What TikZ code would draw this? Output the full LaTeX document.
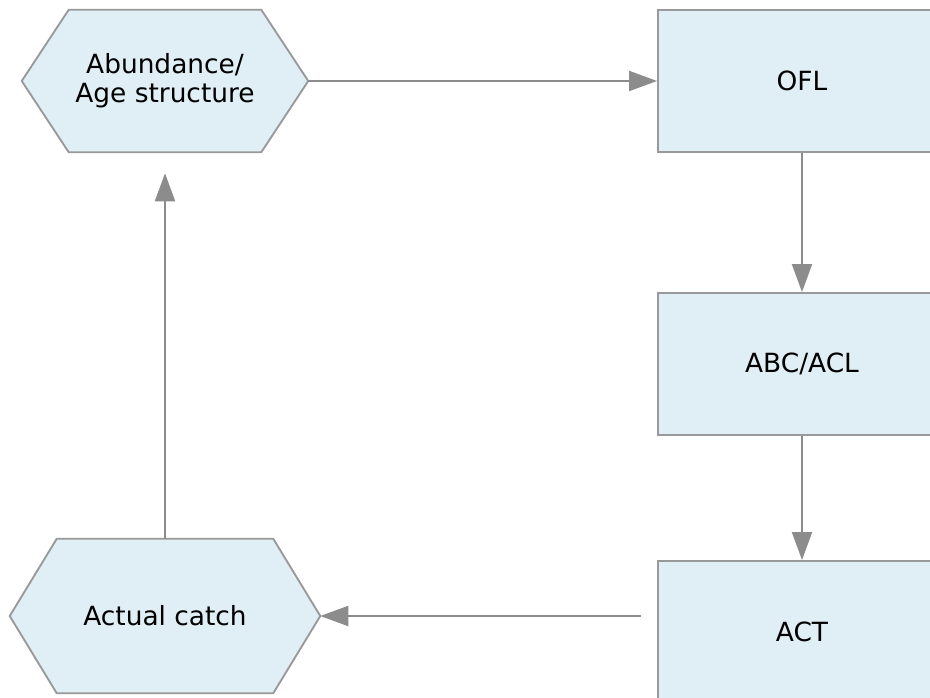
\documentclass[tikz,border=0pt]{standalone}
\usepackage{fontspec}
\setmainfont{DejaVu Sans}
\usetikzlibrary{arrows.meta, positioning, backgrounds}
\definecolor{cFill}{HTML}{E0EEF6}
\definecolor{cLine}{HTML}{999999}
\definecolor{cArrow}{HTML}{8C8C8C}

\begin{document}
\begin{tikzpicture}[
  x=0.75pt, y=-0.75pt,
  every node/.style={font=\fontsize{19.8}{22}\selectfont},
  box/.style={rectangle, draw=cLine, fill=cFill, line width=1.4pt,
              minimum width=216pt, minimum height=106.5pt, align=center, inner sep=0pt},
  hexcore/.style={rectangle, align=center, inner sep=0pt},
  hexline/.style={draw=cLine, fill=cFill, line width=1.4pt, line join=miter},
  link/.style={draw=cArrow, line width=1.5pt, -{Triangle[length=21pt, width=15pt]}}
]
\useasboundingbox (0,0) rectangle (930,698);
\clip (0,0) rectangle (930,698);

% hexagon cores (top edge width x height)
\node[hexcore, minimum width=144pt, minimum height=106.5pt] (abund) at (165,81) {Abundance/\\Age structure};
\node[hexcore, minimum width=162pt, minimum height=115.5pt] (catch) at (165,616) {Actual catch};

% hexagon tips
\coordinate (abund-w) at ([xshift=-35.25pt]abund.west);
\coordinate (abund-e) at ([xshift=35.25pt]abund.east);
\coordinate (catch-w) at ([xshift=-35.25pt]catch.west);
\coordinate (catch-e) at ([xshift=35.25pt]catch.east);

\begin{scope}[on background layer]
  \foreach \n in {abund, catch}
    \draw[hexline] (\n.north west) -- (\n.north east) -- (\n-e)
      -- (\n.south east) -- (\n.south west) -- (\n-w) -- cycle;
\end{scope}

\node[box] (ofl) at (802,81)  {OFL};
\node[box] (abc) at (802,364) {ABC/ACL};
\node[box] (act) at (802,632) {ACT};

\coordinate (actout) at (641,616);

\draw[link] (abund-e) -- (ofl.west);
\draw[link] (ofl.south) -- (abc.north);
\draw[link] (abc.south) -- (act.north);
\draw[link] (actout) -- (catch-e);
\draw[link, shorten >=15.75pt] (catch.north) -- (abund.south);
\end{tikzpicture}
\end{document}
